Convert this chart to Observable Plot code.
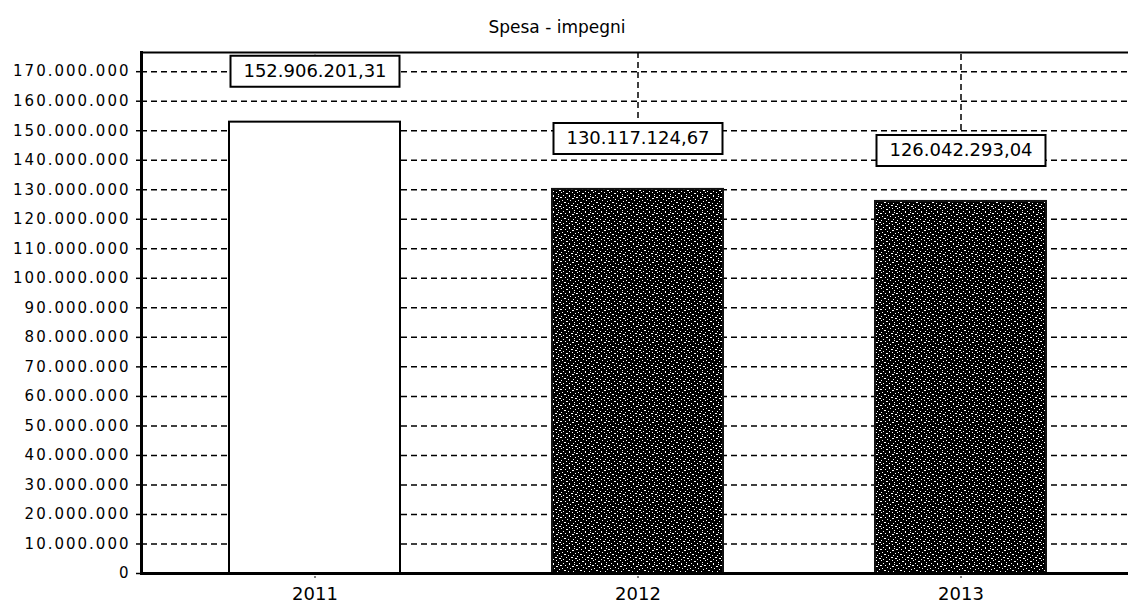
<!DOCTYPE html>
<html>
<head>
<meta charset="utf-8">
<script src="https://cdn.jsdelivr.net/npm/d3@7"></script>
<script src="https://cdn.jsdelivr.net/npm/@observablehq/plot@0.6"></script>
<style>
  html, body { margin: 0; padding: 0; background: #fff; }
  #chart svg { display: block; }
  g[aria-label="y-axis tick label"] text { letter-spacing: 2px; }
</style>
</head>
<body>
<div id="chart"></div>
<script>
// Spesa - impegni, per anno
const title = "Spesa - impegni";
const years = ["2011", "2012", "2013"];
const impegni = [152906201.31, 130117124.67, 126042293.04];
const yTicks = d3.range(0, 170000001, 10000000);
const yMax = 176500000;

const it = d3.formatLocale({decimal: ",", thousands: ".", grouping: [3], currency: ["€", ""]});
const fmtInt = it.format(",d");
const fmtVal = it.format(",.2f");

const data = years.map((year, i) => ({year, value: impegni[i]}));

// speckled dark fill for the 2012/2013 bars
function grainDefs() {
  const ns = "http://www.w3.org/2000/svg";
  const defs = document.createElementNS(ns, "defs");
  const pat = document.createElementNS(ns, "pattern");
  pat.setAttribute("id", "grain");
  pat.setAttribute("width", 16);
  pat.setAttribute("height", 16);
  pat.setAttribute("patternUnits", "userSpaceOnUse");
  const bg = document.createElementNS(ns, "rect");
  bg.setAttribute("width", 16);
  bg.setAttribute("height", 16);
  bg.setAttribute("fill", "#000");
  const specks = document.createElementNS(ns, "path");
  specks.setAttribute("fill", "#fff");
  specks.setAttribute("d",
    "M1 0h1v1h-1z M6 1h2v1h-2z M12 0h1v1h-1z M3 3h1v1h-1z M9 3h1v2h-1z M14 2h1v1h-1z " +
    "M0 5h2v1h-2z M5 5h1v1h-1z M12 6h2v1h-2z M7 7h1v1h-1z M2 8h1v1h-1z M10 8h1v1h-1z " +
    "M15 9h1v1h-1z M4 10h2v1h-2z M8 11h1v1h-1z M13 11h1v1h-1z M1 12h1v1h-1z M6 13h1v1h-1z " +
    "M11 13h2v1h-2z M3 15h1v1h-1z M9 15h1v1h-1z M15 14h1v1h-1z M14 4h1v1h-1z M0 14h1v1h-1z");
  pat.append(bg, specks);
  defs.append(pat);
  return defs;
}

const boxSymbol = {
  draw(context) { context.rect(-84.5, -15.5, 169, 31); }
};

const dash = "6,4";
const labelOffset = -51;

const plot = Plot.plot({
  width: 1128,
  height: 606,
  marginTop: 52,
  marginBottom: 33,
  marginLeft: 141,
  marginRight: 0,
  style: {fontFamily: "'DejaVu Sans', sans-serif", fontSize: "15px", color: "#000", background: "#fff"},
  x: {domain: years, range: [141, 1135], paddingInner: 0.47, paddingOuter: 0.27, label: null},
  y: {domain: [0, yMax], label: null},
  marks: [
    grainDefs,
    Plot.gridY(yTicks, {stroke: "#000", strokeOpacity: 1, strokeWidth: 1.5, strokeDasharray: dash}),
    // vertical guides run from the top of the frame down to each value label
    Plot.ruleX(data, {
      x: "year", y1: "value", y2: yMax, dy: labelOffset, clip: true,
      stroke: "#000", strokeWidth: 1.5, strokeDasharray: dash
    }),
    Plot.barY(data, {
      x: "year", y: "value",
      fill: d => d.year === "2011" ? "#fff" : "url(#grain)",
      stroke: d => d.year === "2011" ? "#000" : "#111",
      strokeWidth: 2
    }),
    Plot.dot(data, {x: "year", y: "value", dy: labelOffset, symbol: boxSymbol, fill: "#fff", stroke: "#000", strokeWidth: 2}),
    Plot.text(data, {
      x: "year", y: "value", dy: labelOffset, text: d => fmtVal(d.value),
      fontSize: 18, fill: "#000", fontFamily: "'DejaVu Sans', sans-serif"
    }),
    Plot.axisY({ticks: yTicks, tickFormat: fmtInt, tickSize: 5, tickPadding: 6, fontSize: 15, label: null, strokeWidth: 1.5}),
    Plot.axisX({tickSize: 5, tickPadding: 9, fontSize: 18, label: null, strokeDasharray: "2,1"}),
    Plot.ruleY([yMax], {stroke: "#000", strokeWidth: 2}),
    Plot.ruleY([0], {stroke: "#000", strokeWidth: 3}),
    Plot.frame({anchor: "left", stroke: "#000", strokeWidth: 3}),
    Plot.text([title], {
      frameAnchor: "top", dx: -78, dy: -25, fontSize: 17, fill: "#000",
      fontFamily: "'DejaVu Sans', sans-serif", lineAnchor: "middle"
    })
  ]
});

document.getElementById("chart").append(plot);
</script>
</body>
</html>
